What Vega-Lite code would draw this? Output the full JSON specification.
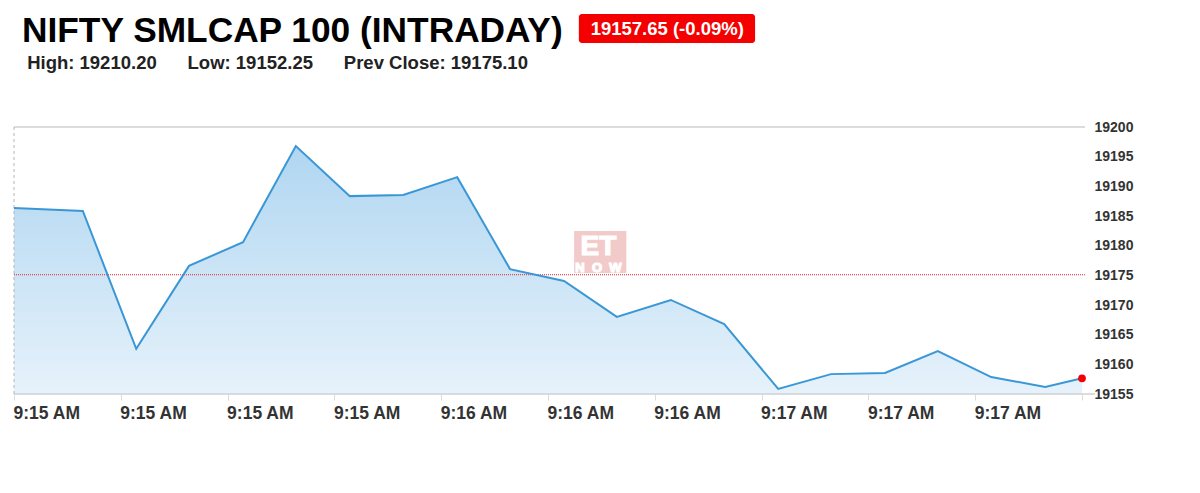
{
  "$schema": "https://vega.github.io/schema/vega-lite/v6.json",
  "autosize": "none",
  "width": 1068,
  "height": 267,
  "padding": {"left": 14, "top": 127, "right": 118, "bottom": 99},
  "background": "white",
  "title": {
    "text": "NIFTY SMLCAP 100 (INTRADAY)",
    "subtitle": "\u200b\u00a0High: 19210.20\u00a0\u00a0\u00a0\u00a0\u00a0\u00a0Low: 19152.25\u00a0\u00a0\u00a0\u00a0\u00a0\u00a0Prev Close: 19175.10",
    "anchor": "start",
    "frame": "group",
    "dx": 8,
    "offset": -59,
    "font": "Liberation Sans",
    "fontSize": 35.3,
    "fontWeight": "bold",
    "color": "#000000",
    "subtitleFont": "Liberation Sans",
    "subtitleFontSize": 18.5,
    "subtitleFontWeight": "bold",
    "subtitleColor": "#222222",
    "subtitlePadding": 5
  },
  "datasets": {
    "series": [
      {"time": "2024-01-01T09:15:00.0", "value": 19186.35},
      {"time": "2024-01-01T09:15:11.6", "value": 19185.85},
      {"time": "2024-01-01T09:15:20.6", "value": 19162.6},
      {"time": "2024-01-01T09:15:29.5", "value": 19176.6},
      {"time": "2024-01-01T09:15:38.6", "value": 19180.6},
      {"time": "2024-01-01T09:15:47.5", "value": 19196.8},
      {"time": "2024-01-01T09:15:56.6", "value": 19188.35},
      {"time": "2024-01-01T09:16:05.6", "value": 19188.55},
      {"time": "2024-01-01T09:16:14.7", "value": 19191.55},
      {"time": "2024-01-01T09:16:23.6", "value": 19176.05},
      {"time": "2024-01-01T09:16:32.7", "value": 19174.05},
      {"time": "2024-01-01T09:16:41.6", "value": 19168.0},
      {"time": "2024-01-01T09:16:50.7", "value": 19170.85},
      {"time": "2024-01-01T09:16:59.7", "value": 19166.8},
      {"time": "2024-01-01T09:17:08.8", "value": 19155.85},
      {"time": "2024-01-01T09:17:17.7", "value": 19158.35},
      {"time": "2024-01-01T09:17:26.8", "value": 19158.55},
      {"time": "2024-01-01T09:17:35.7", "value": 19162.25},
      {"time": "2024-01-01T09:17:44.7", "value": 19157.85},
      {"time": "2024-01-01T09:17:53.8", "value": 19156.2},
      {"time": "2024-01-01T09:18:00.0", "value": 19157.65}
    ],
    "frame": [
      {"time": "2024-01-01T09:15:00.0", "end": "2024-01-01T09:18:00.5", "value": 19200},
      {"time": "2024-01-01T09:15:00.0", "end": "2024-01-01T09:18:02.2", "value": 19155}
    ]
  },
  "encoding": {
    "x": {
      "field": "time",
      "type": "temporal",
      "title": null,
      "scale": {"domain": ["2024-01-01T09:15:00", "2024-01-01T09:18:00"]},
      "axis": {
        "orient": "bottom",
        "format": "%-I:%M %p",
        "values": [
          {"year": 2024, "month": 1, "date": 1, "hours": 9, "minutes": 15, "seconds": 0},
          {"year": 2024, "month": 1, "date": 1, "hours": 9, "minutes": 15, "seconds": 18},
          {"year": 2024, "month": 1, "date": 1, "hours": 9, "minutes": 15, "seconds": 36},
          {"year": 2024, "month": 1, "date": 1, "hours": 9, "minutes": 15, "seconds": 54},
          {"year": 2024, "month": 1, "date": 1, "hours": 9, "minutes": 16, "seconds": 12},
          {"year": 2024, "month": 1, "date": 1, "hours": 9, "minutes": 16, "seconds": 30},
          {"year": 2024, "month": 1, "date": 1, "hours": 9, "minutes": 16, "seconds": 48},
          {"year": 2024, "month": 1, "date": 1, "hours": 9, "minutes": 17, "seconds": 6},
          {"year": 2024, "month": 1, "date": 1, "hours": 9, "minutes": 17, "seconds": 24},
          {"year": 2024, "month": 1, "date": 1, "hours": 9, "minutes": 17, "seconds": 42},
          {"year": 2024, "month": 1, "date": 1, "hours": 9, "minutes": 18, "seconds": 0}
        ],
        "grid": false,
        "domain": false,
        "tickColor": "#dcdcdc",
        "tickSize": 6,
        "labelFont": "Liberation Sans",
        "labelFontSize": 17.5,
        "labelFontWeight": "bold",
        "labelColor": "#333333",
        "labelAlign": "left",
        "labelOffset": -1,
        "labelPadding": 4,
        "labelFlush": false,
        "labelExpr": "minutes(datum.value) == 18 ? '' : datum.label",
        "labelOverlap": false
      }
    },
    "y": {
      "field": "value",
      "type": "quantitative",
      "title": null,
      "scale": {"domain": [19155, 19200], "zero": false, "nice": false},
      "axis": {
        "orient": "right",
        "values": [19155, 19160, 19165, 19170, 19175, 19180, 19185, 19190, 19195, 19200],
        "format": "d",
        "grid": false,
        "domain": false,
        "ticks": false,
        "labelFont": "Liberation Sans",
        "labelFontSize": 14,
        "labelFontWeight": "bold",
        "labelColor": "#333333",
        "labelPadding": 12
      }
    }
  },
  "layer": [
    {
      "data": {"values": [{"time": "2024-01-01T09:16:34.4", "end": "2024-01-01T09:16:43.2", "value": 19182.47, "value2": 19175.39}]},
      "mark": {"type": "rect", "color": "#f3caca"},
      "encoding": {"x2": {"field": "end"}, "y2": {"field": "value2"}}
    },
    {
      "data": {"values": [
        {"time": "2024-01-01T09:16:38.5", "value": 19179.8, "label": "ET", "size": 28},
        {"time": "2024-01-01T09:16:38.5", "value": 19176.3, "label": "N\u00a0\u00a0O\u00a0\u00a0W", "size": 13}
      ]},
      "mark": {"type": "text", "color": "white", "stroke": "white", "strokeWidth": 1.2, "font": "Liberation Sans", "fontWeight": "bold", "baseline": "middle"},
      "encoding": {
        "text": {"field": "label"},
        "size": {"field": "size", "type": "quantitative", "scale": null, "legend": null}
      }
    },
    {
      "data": {"name": "series"},
      "mark": {
        "type": "area",
        "color": {
          "gradient": "linear",
          "x1": 1, "y1": 1, "x2": 1, "y2": 0,
          "stops": [
            {"offset": 0, "color": "#e6f2fb"},
            {"offset": 1, "color": "#b0d6f1"}
          ]
        }
      },
      "encoding": {"y2": {"datum": 19155}}
    },
    {
      "data": {"name": "frame"},
      "mark": {"type": "rule", "color": "#d0d0d0", "strokeWidth": 1.5},
      "encoding": {"x2": {"field": "end"}}
    },
    {
      "data": {"values": [{"time": "2024-01-01T09:15:00.0", "value": 19155, "value2": 19200}]},
      "mark": {"type": "rule", "color": "#b5b5b5", "strokeWidth": 1, "strokeDash": [3, 3]},
      "encoding": {"y2": {"field": "value2"}}
    },
    {
      "data": {"values": [{"time": "2024-01-01T09:15:00.0", "end": "2024-01-01T09:18:00.5", "value": 19175.1}]},
      "mark": {"type": "rule", "color": "#e0262b", "strokeWidth": 1, "strokeDash": [1, 1]},
      "encoding": {"x2": {"field": "end"}}
    },
    {
      "data": {"name": "series"},
      "mark": {"type": "line", "color": "#3a97d6", "strokeWidth": 2}
    },
    {
      "data": {"values": [{"time": "2024-01-01T09:18:00.0", "value": 19157.65}]},
      "mark": {"type": "point", "filled": true, "color": "#f40000", "size": 60, "opacity": 1}
    },
    {
      "data": {"values": [{"time": "2024-01-01T09:16:35.2", "end": "2024-01-01T09:17:04.9", "value": 19219.05, "value2": 19214.16}]},
      "mark": {"type": "rect", "color": "#f40000", "cornerRadius": 3},
      "encoding": {"x2": {"field": "end"}, "y2": {"field": "value2"}}
    },
    {
      "data": {"values": [{"time": "2024-01-01T09:16:50.1", "value": 19216.6, "label": "19157.65 (-0.09%)"}]},
      "mark": {"type": "text", "color": "white", "font": "Liberation Sans", "fontWeight": "bold", "fontSize": 18.5, "baseline": "middle"},
      "encoding": {"text": {"field": "label"}}
    }
  ],
  "config": {"view": {"stroke": null}}
}
